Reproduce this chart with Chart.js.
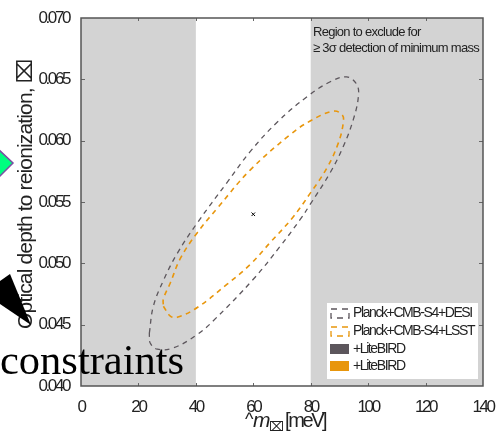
<!DOCTYPE html>
<html><head><meta charset="utf-8">
<style>html,body{margin:0;padding:0;background:#fff}canvas{display:block}</style>
<script src="https://cdn.jsdelivr.net/npm/chart.js@4"></script></head>
<body><canvas id="c" width="496" height="432"></canvas>
<script>
const xTicks=[0,20,40,60,80,100,120,140];
const yTicks=[0.040,0.045,0.050,0.055,0.060,0.065,0.070];
const excludedBands=[[0,40],[80,140]];
const fiducial=[{x:60,y:0.054}];
const desiX=[23.8,25.2,28.7,33.5,40.5,50.9,58.9,68.3,78.8,86.8,92.5,96,96.6,94.8,91.3,86.8,79.8,76.4,69.4,60,46,40.5,32.1,26.6,24.1,23.8];
const desiY=[.0443,.0465,.0486,.0508,.0533,.0566,.0591,.0615,.0636,.0648,.0652,.0646,.0636,.0617,.0595,.0574,.0548,.0536,.0514,.0487,.0453,.0442,.0431,.0430,.0435,.0443];
const lsstX=[28.7,31.1,33.5,40.5,50.9,58.9,65.9,73.6,79.8,85.7,89.6,91.3,91,87.8,79.8,72.9,58.9,47.5,40.5,34.6,31.1,28.7,28.7];
const lsstY=[.0465,.0457,.0456,.0464,.0483,.0499,.0517,.0537,.0557,.0578,.0598,.0614,.0621,.0624,.0616,.0605,.0576,.0545,.0525,.0504,.0484,.0471,.0465];
const seriesLabels=['Planck+CMB-S4+DESI','Planck+CMB-S4+LSST','+LiteBIRD','+LiteBIRD'];
const GREY='#5c565c',ORANGE='#e8960c',FONT='"Liberation Sans"';
const pts=(xs,ys)=>xs.map((x,i)=>({x,y:ys[i]}));
const line=(label,data,color,w)=>({label,data,borderColor:color,backgroundColor:color,showLine:true,tension:0.4,borderWidth:w,borderDash:[5,4.5],pointRadius:0});

const deco={id:'deco',
 beforeDraw(ch){ch.ctx.letterSpacing='-2.4px';},
 beforeDatasetsDraw(ch){
  const {ctx,chartArea:a,scales:{x,y}}=ch;ctx.save();ctx.fillStyle='#d3d3d3';
  excludedBands.forEach(b=>{const l=x.getPixelForValue(b[0]),r=x.getPixelForValue(b[1]);ctx.fillRect(l,a.top,r-l,a.bottom-a.top);});
  ctx.strokeStyle='#666';ctx.lineWidth=1;ctx.beginPath();
  xTicks.slice(1,-1).forEach(v=>{const p=Math.round(x.getPixelForValue(v))+.5;ctx.moveTo(p,a.top);ctx.lineTo(p,a.top+3);ctx.moveTo(p,a.bottom);ctx.lineTo(p,a.bottom-3);});
  yTicks.slice(1,-1).forEach(v=>{const p=Math.round(y.getPixelForValue(v))+.5;ctx.moveTo(a.left,p);ctx.lineTo(a.left+4,p);ctx.moveTo(a.right,p);ctx.lineTo(a.right-4,p);});
  ctx.stroke();ctx.restore();
 },
 afterDraw(ch){
  const {ctx,chartArea:a}=ch;ctx.save();
  ctx.strokeStyle='#555';ctx.lineWidth=1.5;ctx.strokeRect(a.left,a.top,a.right-a.left,a.bottom-a.top);
  ctx.fillStyle='#222';ctx.textBaseline='alphabetic';ctx.textAlign='left';
  ctx.letterSpacing='-0.73px';ctx.font='13px '+FONT;
  ctx.fillText('Region to exclude for',313,36);
  ctx.fillText('≥ 3σ detection of minimum mass',313,52);
  const lx=327,ly=303,lw=151,lh=76;
  ctx.fillStyle='#fff';ctx.fillRect(lx,ly,lw,lh);
  const rows=[313,331,349,366];
  ctx.letterSpacing='-1.4px';
  ch.data.datasets.filter(d=>d.label).forEach((d,i)=>{
    const c=d.borderColor,cy=rows[i];
    if(i<2){ctx.strokeStyle=c;ctx.lineWidth=1.3;ctx.setLineDash([6,5]);ctx.strokeRect(331,cy-4,18,9);ctx.setLineDash([]);}
    else{ctx.fillStyle=c;ctx.fillRect(330,cy-5,19,10);}
    ctx.fillStyle='#222';ctx.font='14px '+FONT;ctx.textBaseline='middle';ctx.fillText(d.label,353,cy);
  });
  ctx.fillStyle='#222';ctx.textBaseline='alphabetic';
  const ty=427;
  ctx.letterSpacing='0px';
  ctx.font='18px '+FONT;ctx.fillText('^',245,ty-2);
  ctx.font='italic 21px '+FONT;ctx.fillText('m',253,ty);
  ctx.font='13px "DejaVu Sans"';ctx.fillText('⌧',269,ty+4);
  ctx.letterSpacing='-2.4px';ctx.font='20px '+FONT;ctx.fillText('[meV]',285,ty);
  ctx.save();ctx.translate(32,194.5);ctx.rotate(-Math.PI/2);ctx.textAlign='center';
  ctx.letterSpacing='-0.85px';ctx.font='21px '+FONT;
  ctx.fillText('Optical depth to reionization, ⌧',0,0);
  ctx.restore();
  ctx.letterSpacing='0px';
  ctx.fillStyle='#00ff7f';ctx.strokeStyle='#7b4fa3';ctx.lineWidth=1.5;
  ctx.beginPath();ctx.moveTo(-2,149);ctx.lineTo(13,163);ctx.lineTo(-2,178);ctx.closePath();ctx.fill();ctx.stroke();
  ctx.fillStyle='#000';ctx.beginPath();ctx.moveTo(0,281);ctx.lineTo(10,274);ctx.lineTo(31,325);ctx.lineTo(0,304);ctx.closePath();ctx.fill();
  ctx.font='42.5px "Liberation Serif"';ctx.fillStyle='#000';ctx.textAlign='left';ctx.textBaseline='alphabetic';
  ctx.fillText('constraints',0,374);
  ctx.restore();
 }};

new Chart(document.getElementById('c'),{
 type:'scatter',
 data:{datasets:[
  line(seriesLabels[0],pts(desiX,desiY),GREY,1.3),
  line(seriesLabels[1],pts(lsstX,lsstY),ORANGE,1.6),
  {label:seriesLabels[2],data:[],borderColor:GREY,backgroundColor:GREY},
  {label:seriesLabels[3],data:[],borderColor:ORANGE,backgroundColor:ORANGE},
  {label:'',data:fiducial,pointStyle:'crossRot',pointRadius:2.5,borderColor:'#000',borderWidth:1,showLine:false}
 ]},
 options:{responsive:false,animation:false,
  layout:{padding:{top:18,right:13}},
  plugins:{legend:{display:false},tooltip:{enabled:false}},
  scales:{
   x:{type:'linear',min:0,max:140,
      afterFit(s){s.height=46;s.paddingRight=0;s.paddingLeft=0},
      afterBuildTicks(s){s.ticks=xTicks.map(value=>({value}))},
      grid:{display:false},border:{display:false},
      ticks:{color:'#222',font:{family:FONT,size:17},maxRotation:0,padding:3,autoSkip:false,callback:v=>String(v)}},
   y:{type:'linear',min:0.04,max:0.07,
      afterFit(s){s.width=81},
      afterBuildTicks(s){s.ticks=yTicks.map(value=>({value}))},
      grid:{display:false},border:{display:false},
      ticks:{color:'#222',font:{family:FONT,size:17},padding:4,autoSkip:false,callback:v=>v.toFixed(3)}}
  }},
 plugins:[deco]
});
</script></body></html>
